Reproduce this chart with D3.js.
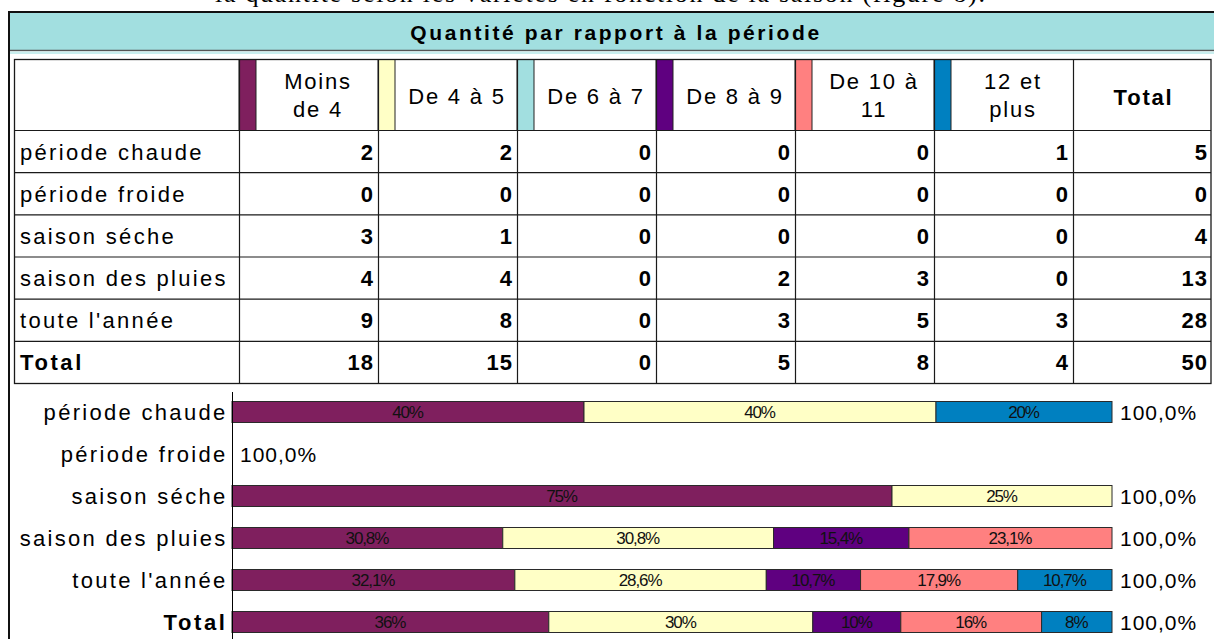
<!DOCTYPE html>
<html>
<head>
<meta charset="utf-8">
<script src="https://cdn.jsdelivr.net/npm/d3@7"></script>
<style>
  html, body { margin: 0; padding: 0; background: #fff; overflow: hidden; }
  svg { display: block; font-family: Arial, "Liberation Sans", sans-serif; }
</style>
</head>
<body>
<svg id="chart" width="1214" height="639"></svg>
<script>
// --- data ---
const categories = ["Moins de 4", "De 4 à 5", "De 6 à 7", "De 8 à 9", "De 10 à 11", "12 et plus"];
const headerLines = [["Moins", "de 4"], ["De 4 à 5"], ["De 6 à 7"], ["De 8 à 9"], ["De 10 à", "11"], ["12 et", "plus"]];
const colors = ["#7f1f5e", "#ffffc6", "#a2dfe0", "#5f0080", "#ff8080", "#0080c0"];
const periods = ["période chaude", "période froide", "saison séche", "saison des pluies", "toute l'année", "Total"];
const counts = [
  [2, 2, 0, 0, 0, 1],
  [0, 0, 0, 0, 0, 0],
  [3, 1, 0, 0, 0, 0],
  [4, 4, 0, 2, 3, 0],
  [9, 8, 0, 3, 5, 3],
  [18, 15, 0, 5, 8, 4]
];
const totals = [5, 0, 4, 13, 28, 50];

const svg = d3.select("#chart");
const W = 1214;
const FS = 22;  // label font size
const LS = 2.3; // the picture's text is spaced out a little

// caption line cut by the top edge
svg.append("text")
  .attr("x", 215).attr("y", 2)
  .attr("textLength", 770).attr("lengthAdjust", "spacing")
  .style("font-family", "'Liberation Serif', 'Times New Roman', serif")
  .style("font-size", "26px")
  .attr("fill", "#000")
  .text("la quantité selon les variétés en fonction de la saison (figure 8).");

// outer frame
svg.append("rect").attr("x", 9).attr("y", 12).attr("width", W).attr("height", 700)
  .attr("fill", "#fff").attr("stroke", "#111").attr("stroke-width", 2);

// title bar
svg.append("rect").attr("x", 10).attr("y", 13).attr("width", W).attr("height", 37)
  .attr("fill", "#a2dfe0");
svg.append("line").attr("x1", 10).attr("x2", W).attr("y1", 50.5).attr("y2", 50.5)
  .attr("stroke", "#555").attr("stroke-width", 1.5);
svg.append("rect").attr("x", 10).attr("y", 51.5).attr("width", W).attr("height", 2.5)
  .attr("fill", "#c9eeee");
svg.append("text")
  .attr("x", 616).attr("y", 40)
  .attr("text-anchor", "middle")
  .style("font-weight", "bold").style("font-size", "21px")
  .style("letter-spacing", "2.6px")
  .text("Quantité par rapport à la période");

// --- table ---
const colKeys = categories.concat(["Total"]);
const col = d3.scaleBand().domain(colKeys).range([239, 1212]);
const tableLeft = 14.5;
const headerTop = 59.5, headerBottom = 130.5;
const row = d3.scaleBand().domain(periods).range([headerBottom, 383.5]);

const table = svg.append("g");

// swatches in header cells
table.selectAll("rect.sw")
  .data(categories)
  .join("rect")
  .attr("class", "sw")
  .attr("x", d => col(d))
  .attr("y", headerTop)
  .attr("width", 17)
  .attr("height", headerBottom - headerTop)
  .attr("fill", (d, i) => colors[i])
  .attr("stroke", "#222").attr("stroke-width", 1);

// header labels
categories.forEach((c, i) => {
  const lines = headerLines[i];
  const cx = col(c) + 17 + (col.bandwidth() - 17) / 2 + 1;
  const t = table.append("text")
    .attr("text-anchor", "middle")
    .style("font-size", FS + "px").style("letter-spacing", "1.8px");
  lines.forEach((ln, j) => {
    t.append("tspan")
      .attr("x", cx)
      .attr("y", lines.length === 1 ? 104 : 89 + j * 28)
      .text(ln);
  });
});
table.append("text")
  .attr("x", col("Total") + col.bandwidth() / 2 + 1).attr("y", 105)
  .attr("text-anchor", "middle")
  .style("font-size", "22px").style("font-weight", "bold")
  .style("letter-spacing", "1.8px")
  .text("Total");

// body cells
periods.forEach((p, r) => {
  const y = row(p) + row.bandwidth() / 2 + 8;
  table.append("text")
    .attr("x", 20).attr("y", y)
    .style("font-size", FS + "px")
    .style("letter-spacing", (p === "Total" ? 2.6 : LS) + "px")
    .style("font-weight", p === "Total" ? "bold" : "normal")
    .text(p);
  const vals = counts[r].concat([totals[r]]);
  colKeys.forEach((k, c) => {
    table.append("text")
      .attr("x", col(k) + col.bandwidth() - 4).attr("y", y)
      .attr("text-anchor", "end")
      .style("font-size", "22px").style("font-weight", "bold")
      .style("letter-spacing", "1px")
      .text(vals[c]);
  });
});

// grid lines
const gridColor = "#1a1a1a";
table.append("rect")
  .attr("x", tableLeft).attr("y", headerTop)
  .attr("width", 1211 - tableLeft).attr("height", 383.5 - headerTop)
  .attr("fill", "none").attr("stroke", gridColor).attr("stroke-width", 1.3);
table.selectAll("line.h")
  .data(periods)
  .join("line")
  .attr("x1", tableLeft).attr("x2", 1211)
  .attr("y1", d => row(d)).attr("y2", d => row(d))
  .attr("stroke", gridColor).attr("stroke-width", 1.2);
table.selectAll("line.v")
  .data(colKeys)
  .join("line")
  .attr("x1", d => col(d) + 0.5).attr("x2", d => col(d) + 0.5)
  .attr("y1", headerTop).attr("y2", 383.5)
  .attr("stroke", gridColor).attr("stroke-width", 1.2);

// --- stacked 100% bar chart ---
const x = d3.scaleLinear().domain([0, 1]).range([232, 1112]);
const y = d3.scaleBand().domain(periods).range([391, 643]).paddingInner(0.5).paddingOuter(0.25);

const pctFmt = v => {
  const s = (Math.round(v * 1000) / 10).toFixed(1).replace(".", ",");
  return s.replace(/,0$/, "") + "%";
};

const stackRows = periods.map((p, r) => {
  const o = { period: p };
  categories.forEach((c, i) => { o[c] = totals[r] ? counts[r][i] / totals[r] : 0; });
  return o;
});
const series = d3.stack().keys(categories)(stackRows);

const bars = svg.append("g");
series.forEach((s, i) => {
  const g = bars.append("g");
  g.selectAll("rect")
    .data(s.filter(d => d[1] - d[0] > 0))
    .join("rect")
    .attr("x", d => x(d[0]))
    .attr("y", d => y(d.data.period))
    .attr("width", d => x(d[1]) - x(d[0]))
    .attr("height", y.bandwidth())
    .attr("fill", colors[i])
    .attr("stroke", "#2a2a2a").attr("stroke-width", 1);
  g.selectAll("text")
    .data(s.filter(d => d[1] - d[0] > 0))
    .join("text")
    .attr("x", d => (x(d[0]) + x(d[1])) / 2 - 0.5)
    .attr("y", d => y(d.data.period) + y.bandwidth() / 2 + 6)
    .attr("text-anchor", "middle")
    .style("font-size", "17px").style("letter-spacing", "-1.1px")
    .attr("fill", "#111")
    .text(d => pctFmt(d[1] - d[0]));
});

// total labels
bars.selectAll("text.tot")
  .data(periods)
  .join("text")
  .attr("class", "tot")
  .attr("x", (d, i) => (totals[i] ? x(1) : x(0)) + 8)
  .attr("y", d => y(d) + y.bandwidth() / 2 + 8)
  .style("font-size", "21px").style("letter-spacing", "1px")
  .text("100,0%");

// category axis
const yAxis = svg.append("g")
  .attr("transform", "translate(232.5,0)")
  .call(d3.axisLeft(y).tickSize(0).tickPadding(5));
yAxis.select(".domain").attr("d", "M0,392V640").attr("stroke", "#000");
yAxis.selectAll(".tick text")
  .style("font-size", FS + "px")
  .style("letter-spacing", d => (d === "Total" ? 2.6 : LS) + "px")
  .style("font-family", "Arial, 'Liberation Sans', sans-serif")
  .style("font-weight", d => d === "Total" ? "bold" : "normal")
  .attr("fill", "#000")
  .attr("dy", "0.36em");
</script>
</body>
</html>
